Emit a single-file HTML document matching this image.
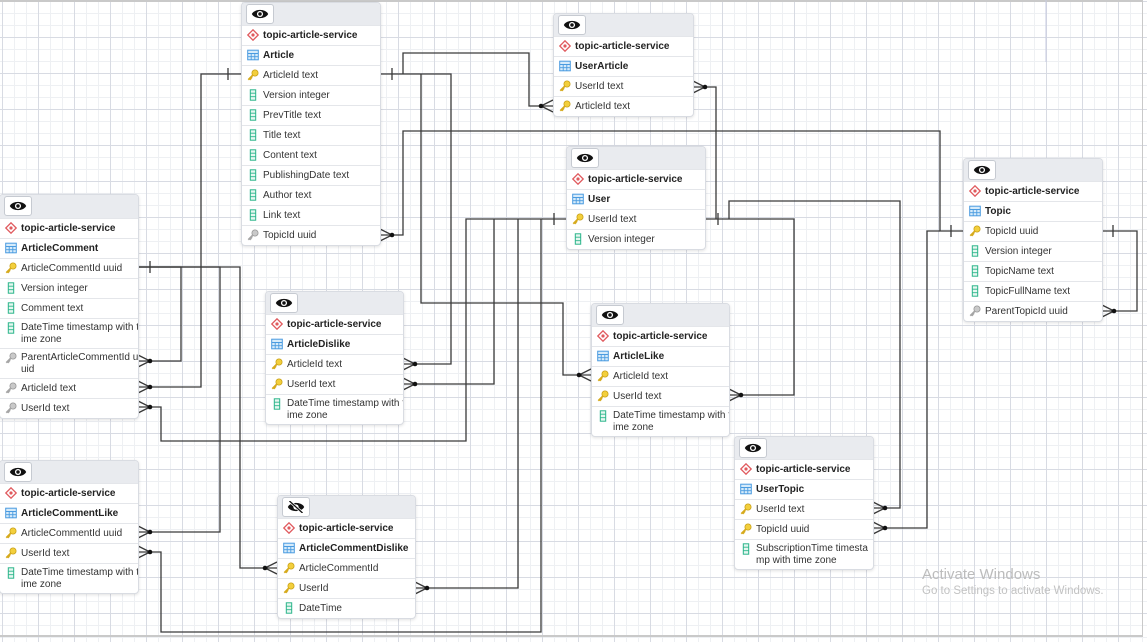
<!DOCTYPE html>
<html><head><meta charset="utf-8">
<style>
html,body{margin:0;padding:0;}
body{width:1147px;height:642px;position:relative;overflow:hidden;background-color:#fff;
background-image:
linear-gradient(to right,#d8dbe3 1px,transparent 1px),
linear-gradient(to bottom,#d8dbe3 1px,transparent 1px),
linear-gradient(to right,#eef0f3 1px,transparent 1px),
linear-gradient(to bottom,#eef0f3 1px,transparent 1px);
background-size:36px 36px,36px 36px,12px 12px,12px 12px;
background-position:2px 1px,2px 1px,2px 1px,2px 1px;
font-family:"Liberation Sans",sans-serif;color:#333;}
.frame{position:absolute;left:0;top:0;width:1143px;height:637px;border-top:2px solid #c9c9c9;border-right:1px solid #c9c9c9;border-bottom:2px solid #c9c9c9;box-sizing:border-box;}
.t{position:absolute;box-sizing:border-box;background:#fff;border:1px solid #d9dce2;border-radius:4px;box-shadow:0 1px 3px rgba(0,0,0,.12);overflow:hidden;z-index:2}
.h{height:22px;background:#e9ebef;position:relative}
.eb{position:absolute;left:4px;top:1px;width:28px;height:20px;background:#fff;border:1px solid #c6cad1;border-radius:3px;box-sizing:border-box;}
.eb svg{position:absolute;left:4px;top:3px}
.r{height:20px;border-top:1px solid #e4e6ea;box-sizing:border-box;position:relative;padding-left:21px;font-size:10px;line-height:19px;white-space:nowrap}
.r2{height:30px;line-height:12px;padding-top:3px}
.b{font-weight:bold;color:#222}
.r>svg{position:absolute;left:5px;top:3px}
.wm1{position:absolute;left:922px;top:566px;font-size:15px;color:#bcbcbc}
.wm2{position:absolute;left:922px;top:585px;font-size:11.5px;color:#c2c2c2}
</style></head><body>
<div class="frame"></div>
<svg width="0" height="0" style="position:absolute">
<defs>
<symbol id="srv" viewBox="0 0 12 12"><path d="M6 .8L11.2 6 6 11.2.8 6Z" fill="#fff" stroke="#e05a5e" stroke-width="1.3"/><circle cx="6" cy="6" r="1.6" fill="#e05a5e"/></symbol>
<symbol id="tbl" viewBox="0 0 12 12"><rect x=".7" y="1.2" width="10.6" height="9.6" fill="#d6ebfa" stroke="#4a9be0" stroke-width="1"/><path d="M.7 4.5H11.3M.7 7.7H11.3M4.2 4.5V10.8M7.8 4.5V10.8" stroke="#4a9be0" stroke-width=".9"/></symbol>
<symbol id="pk" viewBox="0 0 12 12"><circle cx="8" cy="4" r="3.1" fill="#f3cf3c" stroke="#c9a21a" stroke-width=".8"/><path d="M6 6L1.3 10.7M2.6 9.4L3.9 10.7M3.8 8.2L5 9.4" stroke="#d6aa1c" stroke-width="1.8"/></symbol>
<symbol id="fk" viewBox="0 0 12 12"><circle cx="8" cy="4" r="3.1" fill="#c9c9c9" stroke="#999" stroke-width=".8"/><path d="M6 6L1.3 10.7M2.6 9.4L3.9 10.7M3.8 8.2L5 9.4" stroke="#a5a5a5" stroke-width="1.8"/></symbol>
<symbol id="col" viewBox="0 0 12 12"><rect x="3.3" y=".8" width="5.4" height="10.4" fill="#e6f7f0" stroke="#2bb58a" stroke-width="1"/><path d="M3.3 4.2H8.7M3.3 7.7H8.7" stroke="#2bb58a" stroke-width=".9"/></symbol>
<symbol id="eye" viewBox="0 0 16 11"><path d="M.5 5.5C3 .5 13 .5 15.5 5.5 13 10.5 3 10.5 .5 5.5Z" fill="#111"/><circle cx="8" cy="5.5" r="2.8" fill="#fff"/><circle cx="8" cy="5.5" r="1.6" fill="#111"/></symbol>
<symbol id="eyex" viewBox="0 0 16 11"><path d="M.5 5.5C3 .5 13 .5 15.5 5.5 13 10.5 3 10.5 .5 5.5Z" fill="#111"/><circle cx="8" cy="5.5" r="2.4" fill="#fff"/><path d="M2 0L14 11" stroke="#fff" stroke-width="2.6"/><path d="M2 0L14 11" stroke="#111" stroke-width="1.2"/></symbol>
</defs></svg>

<svg style="position:absolute;left:0;top:0;z-index:1" width="1147" height="642">
<path d="M1046 0V62" stroke="#c7cbe0" stroke-width="1"/>
<g fill="none" stroke="#3a3a3a" stroke-width="1.3">
<path d="M241 74H201V387H138"/>
<path d="M138 267H181V361H138"/>
<path d="M138 267H220V532H138"/>
<path d="M138 267H240V568H277"/>
<path d="M380 74H451V364H403"/>
<path d="M421 74V303H563V375H591"/>
<path d="M403 74V53H529V106H553"/>
<path d="M566 219H466V441H161V407H138"/>
<path d="M494 219V384H403"/>
<path d="M518 219V588H415"/>
<path d="M541 219V632H161V552H138"/>
<path d="M705 219H794V395H729"/>
<path d="M716 219V87H693"/>
<path d="M729 219V201H900V508H873"/>
<path d="M963 231H940V131H403V235H380"/>
<path d="M940 231H927V528H873"/>
<path d="M1102 231H1137V311H1102"/>
<path d="M228 68V80M392 68V80M150 261V273M554 213V225M718 213V225M951 225V237M1113 225V237"/>
<path d="M150 387L138 381M150 387L138 393"/>
<path d="M150 361L138 355M150 361L138 367"/>
<path d="M150 532L138 526M150 532L138 538"/>
<path d="M265 568L277 562M265 568L277 574"/>
<path d="M541 106L553 100M541 106L553 112"/>
<path d="M579 375L591 369M579 375L591 381"/>
<path d="M415 364L403 358M415 364L403 370"/>
<path d="M150 407L138 401M150 407L138 413"/>
<path d="M415 384L403 378M415 384L403 390"/>
<path d="M427 588L415 582M427 588L415 594"/>
<path d="M150 552L138 546M150 552L138 558"/>
<path d="M705 87L693 81M705 87L693 93"/>
<path d="M885 508L873 502M885 508L873 514"/>
<path d="M741 395L729 389M741 395L729 401"/>
<path d="M392 235L380 229M392 235L380 241"/>
<path d="M885 528L873 522M885 528L873 534"/>
<path d="M1114 311L1102 305M1114 311L1102 317"/>
</g>
<g fill="#111">
<circle cx="150" cy="387" r="2.3"/><circle cx="150" cy="361" r="2.3"/><circle cx="150" cy="532" r="2.3"/>
<circle cx="265" cy="568" r="2.3"/><circle cx="541" cy="106" r="2.3"/><circle cx="579" cy="375" r="2.3"/>
<circle cx="415" cy="364" r="2.3"/><circle cx="150" cy="407" r="2.3"/><circle cx="415" cy="384" r="2.3"/>
<circle cx="427" cy="588" r="2.3"/><circle cx="150" cy="552" r="2.3"/><circle cx="705" cy="87" r="2.3"/>
<circle cx="885" cy="508" r="2.3"/><circle cx="741" cy="395" r="2.3"/><circle cx="392" cy="235" r="2.3"/>
<circle cx="885" cy="528" r="2.3"/><circle cx="1114" cy="311" r="2.3"/>
</g>
</svg>

<div class="t" style="left:241px;top:2px;width:140px">
<div class="h"><div class="eb"><svg width="18" height="12"><use href="#eye"/></svg></div></div>
<div class="r b"><svg width="12" height="12"><use href="#srv"/></svg>topic-article-service</div>
<div class="r b"><svg width="12" height="12"><use href="#tbl"/></svg>Article</div>
<div class="r"><svg width="12" height="12"><use href="#pk"/></svg>ArticleId text</div>
<div class="r"><svg width="12" height="12"><use href="#col"/></svg>Version integer</div>
<div class="r"><svg width="12" height="12"><use href="#col"/></svg>PrevTitle text</div>
<div class="r"><svg width="12" height="12"><use href="#col"/></svg>Title text</div>
<div class="r"><svg width="12" height="12"><use href="#col"/></svg>Content text</div>
<div class="r"><svg width="12" height="12"><use href="#col"/></svg>PublishingDate text</div>
<div class="r"><svg width="12" height="12"><use href="#col"/></svg>Author text</div>
<div class="r"><svg width="12" height="12"><use href="#col"/></svg>Link text</div>
<div class="r"><svg width="12" height="12"><use href="#fk"/></svg>TopicId uuid</div>
</div>

<div class="t" style="left:553px;top:13px;width:141px">
<div class="h"><div class="eb"><svg width="18" height="12"><use href="#eye"/></svg></div></div>
<div class="r b"><svg width="12" height="12"><use href="#srv"/></svg>topic-article-service</div>
<div class="r b"><svg width="12" height="12"><use href="#tbl"/></svg>UserArticle</div>
<div class="r"><svg width="12" height="12"><use href="#pk"/></svg>UserId text</div>
<div class="r"><svg width="12" height="12"><use href="#pk"/></svg>ArticleId text</div>
</div>

<div class="t" style="left:566px;top:146px;width:140px">
<div class="h"><div class="eb"><svg width="18" height="12"><use href="#eye"/></svg></div></div>
<div class="r b"><svg width="12" height="12"><use href="#srv"/></svg>topic-article-service</div>
<div class="r b"><svg width="12" height="12"><use href="#tbl"/></svg>User</div>
<div class="r"><svg width="12" height="12"><use href="#pk"/></svg>UserId text</div>
<div class="r"><svg width="12" height="12"><use href="#col"/></svg>Version integer</div>
</div>

<div class="t" style="left:963px;top:158px;width:140px">
<div class="h"><div class="eb"><svg width="18" height="12"><use href="#eye"/></svg></div></div>
<div class="r b"><svg width="12" height="12"><use href="#srv"/></svg>topic-article-service</div>
<div class="r b"><svg width="12" height="12"><use href="#tbl"/></svg>Topic</div>
<div class="r"><svg width="12" height="12"><use href="#pk"/></svg>TopicId uuid</div>
<div class="r"><svg width="12" height="12"><use href="#col"/></svg>Version integer</div>
<div class="r"><svg width="12" height="12"><use href="#col"/></svg>TopicName text</div>
<div class="r"><svg width="12" height="12"><use href="#col"/></svg>TopicFullName text</div>
<div class="r"><svg width="12" height="12"><use href="#fk"/></svg>ParentTopicId uuid</div>
</div>

<div class="t" style="left:-1px;top:194px;width:140px">
<div class="h" style="height:23px"><div class="eb"><svg width="18" height="12"><use href="#eye"/></svg></div></div>
<div class="r b"><svg width="12" height="12"><use href="#srv"/></svg>topic-article-service</div>
<div class="r b"><svg width="12" height="12"><use href="#tbl"/></svg>ArticleComment</div>
<div class="r"><svg width="12" height="12"><use href="#pk"/></svg>ArticleCommentId uuid</div>
<div class="r"><svg width="12" height="12"><use href="#col"/></svg>Version integer</div>
<div class="r"><svg width="12" height="12"><use href="#col"/></svg>Comment text</div>
<div class="r r2"><svg width="12" height="12"><use href="#col"/></svg>DateTime timestamp with t<br>ime zone</div>
<div class="r r2"><svg width="12" height="12"><use href="#fk"/></svg>ParentArticleCommentId u<br>uid</div>
<div class="r"><svg width="12" height="12"><use href="#fk"/></svg>ArticleId text</div>
<div class="r"><svg width="12" height="12"><use href="#fk"/></svg>UserId text</div>
</div>

<div class="t" style="left:265px;top:291px;width:139px">
<div class="h"><div class="eb"><svg width="18" height="12"><use href="#eye"/></svg></div></div>
<div class="r b"><svg width="12" height="12"><use href="#srv"/></svg>topic-article-service</div>
<div class="r b"><svg width="12" height="12"><use href="#tbl"/></svg>ArticleDislike</div>
<div class="r"><svg width="12" height="12"><use href="#pk"/></svg>ArticleId text</div>
<div class="r"><svg width="12" height="12"><use href="#pk"/></svg>UserId text</div>
<div class="r r2"><svg width="12" height="12"><use href="#col"/></svg>DateTime timestamp with t<br>ime zone</div>
</div>

<div class="t" style="left:591px;top:303px;width:139px">
<div class="h"><div class="eb"><svg width="18" height="12"><use href="#eye"/></svg></div></div>
<div class="r b"><svg width="12" height="12"><use href="#srv"/></svg>topic-article-service</div>
<div class="r b"><svg width="12" height="12"><use href="#tbl"/></svg>ArticleLike</div>
<div class="r"><svg width="12" height="12"><use href="#pk"/></svg>ArticleId text</div>
<div class="r"><svg width="12" height="12"><use href="#pk"/></svg>UserId text</div>
<div class="r r2"><svg width="12" height="12"><use href="#col"/></svg>DateTime timestamp with t<br>ime zone</div>
</div>

<div class="t" style="left:734px;top:436px;width:140px">
<div class="h"><div class="eb"><svg width="18" height="12"><use href="#eye"/></svg></div></div>
<div class="r b"><svg width="12" height="12"><use href="#srv"/></svg>topic-article-service</div>
<div class="r b"><svg width="12" height="12"><use href="#tbl"/></svg>UserTopic</div>
<div class="r"><svg width="12" height="12"><use href="#pk"/></svg>UserId text</div>
<div class="r"><svg width="12" height="12"><use href="#pk"/></svg>TopicId uuid</div>
<div class="r r2"><svg width="12" height="12"><use href="#col"/></svg>SubscriptionTime timesta<br>mp with time zone</div>
</div>

<div class="t" style="left:-1px;top:460px;width:140px">
<div class="h"><div class="eb"><svg width="18" height="12"><use href="#eye"/></svg></div></div>
<div class="r b"><svg width="12" height="12"><use href="#srv"/></svg>topic-article-service</div>
<div class="r b"><svg width="12" height="12"><use href="#tbl"/></svg>ArticleCommentLike</div>
<div class="r"><svg width="12" height="12"><use href="#pk"/></svg>ArticleCommentId uuid</div>
<div class="r"><svg width="12" height="12"><use href="#pk"/></svg>UserId text</div>
<div class="r r2"><svg width="12" height="12"><use href="#col"/></svg>DateTime timestamp with t<br>ime zone</div>
</div>

<div class="t" style="left:277px;top:495px;width:139px">
<div class="h"><div class="eb"><svg width="18" height="12"><use href="#eyex"/></svg></div></div>
<div class="r b"><svg width="12" height="12"><use href="#srv"/></svg>topic-article-service</div>
<div class="r b"><svg width="12" height="12"><use href="#tbl"/></svg>ArticleCommentDislike</div>
<div class="r"><svg width="12" height="12"><use href="#pk"/></svg>ArticleCommentId</div>
<div class="r"><svg width="12" height="12"><use href="#pk"/></svg>UserId</div>
<div class="r"><svg width="12" height="12"><use href="#col"/></svg>DateTime</div>
</div>

<div class="wm1">Activate Windows</div>
<div class="wm2">Go to Settings to activate Windows.</div>
</body></html>
